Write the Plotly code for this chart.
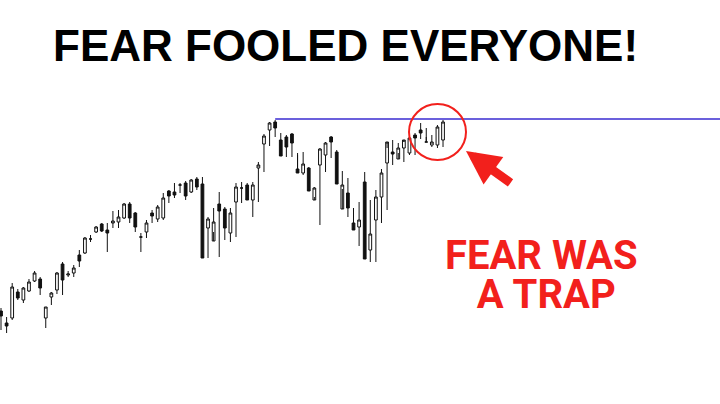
import plotly.graph_objects as go

# Candle data (price units)
idx = list(range(80))
opens = [89, 77, 82, 108, 100, 109, 119, 121, 82, 103, 110, 136, 125, 127, 145, 147, 161, 168, 176, 170,
         177, 178, 182, 196, 187, 163, 168, 187, 181, 182, 209, 208, 215, 217, 208, 221, 216, 172, 159, 196,
         191, 167, 198, 212, 215, 200, 232, 256, 270, 278, 260, 263, 266, 231, 227, 232, 200, 235, 245, 263,
         248, 191, 207, 177, 173, 218, 150, 180, 203, 237, 248, 241, 252, 247, 265, 270, 258, 255, 255, 260]
highs = [92, 83, 117, 111, 113, 121, 129, 123, 93, 108, 128, 138, 129, 135, 150, 163, 165, 174, 177, 177,
         189, 190, 197, 198, 188, 167, 180, 190, 195, 207, 210, 217, 217, 219, 221, 223, 223, 183, 192, 208,
         193, 192, 217, 218, 217, 218, 238, 266, 278, 280, 267, 265, 267, 245, 248, 233, 213, 252, 258, 264,
         248, 229, 222, 192, 198, 228, 200, 210, 231, 252, 260, 257, 258, 262, 267, 277, 272, 265, 275, 280]
lows = [70, 67, 80, 100, 97, 108, 118, 105, 72, 95, 106, 105, 123, 123, 133, 146, 158, 167, 168, 148,
        172, 172, 181, 177, 168, 148, 162, 177, 178, 180, 197, 202, 207, 200, 207, 210, 142, 142, 168, 143,
        160, 158, 163, 197, 208, 183, 198, 228, 254, 263, 257, 243, 243, 247, 225, 225, 203, 175, 228, 242,
        250, 211, 183, 182, 154, 162, 138, 138, 177, 190, 235, 247, 238, 245, 245, 261, 263, 253, 252, 253]
closes = [84, 74, 113, 102, 112, 118, 127, 112, 93, 107, 127, 120, 126, 132, 139, 162, 161, 173, 169, 167,
          179, 183, 196, 182, 173, 163, 177, 184, 193, 202, 204, 205, 215, 204, 220, 213, 142, 181, 178, 189,
          172, 187, 213, 212, 200, 215, 235, 264, 277, 272, 244, 253, 257, 227, 236, 209, 212, 251, 257, 258,
          216, 215, 192, 170, 180, 141, 166, 203, 227, 258, 246, 252, 260, 262, 262, 267, 258, 258, 273, 278]

resistance = 281
resistance_start = 49

RED = "#f2201c"

fig = go.Figure()
fig.add_trace(go.Candlestick(
    x=idx, open=opens, high=highs, low=lows, close=closes,
    increasing=dict(line=dict(color="#111111", width=1), fillcolor="#ffffff"),
    decreasing=dict(line=dict(color="#111111", width=1), fillcolor="#111111"),
    whiskerwidth=0, showlegend=False, hoverinfo="skip",
))

fig.add_shape(type="line", x0=resistance_start, x1=140, y0=resistance, y1=resistance,
              xref="x", yref="y", line=dict(color="#3a2bd0", width=1.5))

# red circle around latest candles
fig.add_shape(type="circle", xref="paper", yref="paper",
              x0=409/720, x1=466/720, y0=1-160/404, y1=1-104/404,
              line=dict(color=RED, width=2))

fig.add_annotation(text="<b>FEAR FOOLED EVERYONE!</b>", xref="paper", yref="paper",
                   x=345/720, y=1-46/404, showarrow=False, xanchor="center", yanchor="middle",
                   font=dict(family="Liberation Sans, Arial", size=44, color="#000000"))
fig.add_annotation(
    text=("<span style='font-size:40px'><b>FEAR WAS</b></span><br>"
          "<span style='font-size:40px'><b>&nbsp;A TRAP</b></span>"),
    xref="paper", yref="paper", x=541/720, y=1-275/404, showarrow=False,
    xanchor="center", yanchor="middle", align="center",
    font=dict(family="Roboto, Liberation Sans", size=30, color=RED))
# arrow
fig.add_annotation(text="", xref="paper", yref="paper", x=466/720, y=1-151/404,
                   ax=46, ay=33, showarrow=True, arrowhead=2, arrowsize=0.75,
                   arrowwidth=9, arrowcolor=RED)

fig.update_layout(
    width=720, height=404,
    margin=dict(l=0, r=0, t=0, b=0),
    paper_bgcolor="#ffffff", plot_bgcolor="#ffffff",
    xaxis=dict(range=[-0.179, 128.5], visible=False, rangeslider=dict(visible=False),
               showgrid=False, zeroline=False),
    yaxis=dict(range=[-4, 400], visible=False, showgrid=False, zeroline=False),
)

fig.write_html("out.html", config={"displayModeBar": False},
               post_script="document.body.style.margin='0px';")
